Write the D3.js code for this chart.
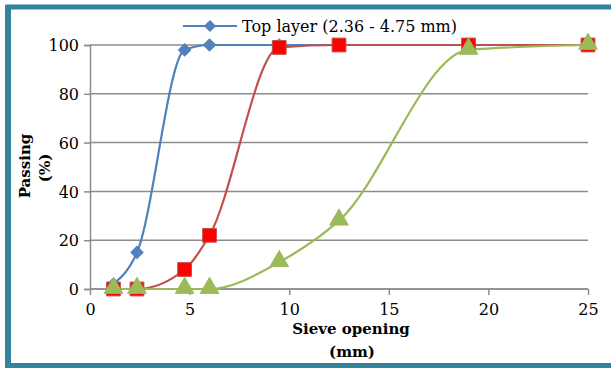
<!DOCTYPE HTML>
<html>
  <head>
    <script src="https://d3js.org/d3.v7.min.js"></script>
    <style>
      body { margin: 0; background: white; }
      svg text { font-family: "DejaVu Serif", "Liberation Serif", serif; fill: black; }
      .tick text { font-size: 16px; }
      .title { font-weight: bold; font-size: 15px; }
    </style>
    <title>Sieve chart</title>
  </head>
  <body>
    <svg id="chart" width="611" height="368"></svg>
    <script>
      var sieves = [1.18, 2.36, 4.75, 6, 9.5, 12.5, 19, 25];
      var topLayer = [2, 15, 98, 100, 100, 100, 100, 100];
      var midLayer = [0, 0, 8, 22, 99, 100, 100, 100];
      var baseLayer = [0, 0, 0, 0, 11, 28, 98, 100];
      var xTicks = [0, 5, 10, 15, 20, 25];
      var yTicks = [0, 20, 40, 60, 80, 100];
      var legendName = "Top layer (2.36 - 4.75 mm)";

      var svg = d3.select("#chart");

      // frame
      svg.append("path")
        .attr("d", "M8,366 L8,7 L620,7 M8,365.5 L620,365.5")
        .attr("fill", "none").attr("stroke", "#31849b").attr("stroke-width", 5);
      svg.append("rect").attr("x", 5).attr("y", 5).attr("width", 6).attr("height", 363).attr("fill", "#31849b");

      var x = d3.scaleLinear().domain([0, 25]).range([90, 588]);
      var y = d3.scaleLinear().domain([0, 100]).range([289, 45]);

      // gridlines
      svg.append("g").selectAll("line").data(yTicks).enter().append("line")
        .attr("x1", x(0)).attr("x2", x(25))
        .attr("y1", function(d){return y(d);}).attr("y2", function(d){return y(d);})
        .attr("stroke", "#8c8c8c").attr("stroke-width", 1.5);

      var yAxis = svg.append("g").attr("transform", "translate(" + x(0) + ",0)")
        .call(d3.axisLeft(y).tickValues(yTicks).tickSize(6).tickPadding(5));
      var xAxis = svg.append("g").attr("transform", "translate(0," + y(0) + ")")
        .call(d3.axisBottom(x).tickValues(xTicks).tickSize(6).tickPadding(9));
      svg.selectAll(".domain, .tick line").attr("stroke", "#8c8c8c").attr("stroke-width", 1.5);
      xAxis.select(".domain").remove();
      svg.append("line").attr("x1", x(0)).attr("x2", x(25)).attr("y1", y(0)).attr("y2", y(0))
        .attr("stroke", "#8c8c8c").attr("stroke-width", 1.5);
      svg.selectAll(".tick text").style("font-family", "DejaVu Serif").style("font-size", "16px");
      yAxis.selectAll(".tick text").attr("dy", "0.35em");

      var line = d3.line()
        .x(function(d){return x(d[0]);}).y(function(d){return y(d[1]);})
        .curve(d3.curveMonotoneX);

      function pts(vals){ return sieves.map(function(s, i){ return [s, vals[i]]; }); }

      var series = [
        {vals: topLayer, color: "#4f81bd", sym: d3.symbolSquare, size: 75, rot: 45, fill: "#4f81bd", edge: "#4f81bd"},
        {vals: midLayer, color: "#c0504d", sym: d3.symbolSquare, size: 190, rot: 0, fill: "#ff0000", edge: "#c0504d"},
        {vals: baseLayer, color: "#9bbb59", sym: d3.symbolTriangle, size: 150, rot: 0, fill: "#9bbb59", edge: "#9bbb59"}
      ];

      series.forEach(function(s){
        svg.append("path").datum(pts(s.vals)).attr("d", line)
          .attr("fill", "none").attr("stroke", s.color).attr("stroke-width", 2.2);
      });
      series.forEach(function(s){
        svg.append("g").selectAll("path").data(pts(s.vals)).enter().append("path")
          .attr("d", d3.symbol().type(s.sym).size(s.size))
          .attr("transform", function(d){
            var dy = s.sym === d3.symbolTriangle ? -1 : 0;
            return "translate(" + x(d[0]) + "," + (y(d[1]) + dy) + ") rotate(" + s.rot + ")";
          })
          .attr("fill", s.fill).attr("stroke", s.edge).attr("stroke-width", 1);
      });

      // legend
      var lg = svg.append("g");
      lg.append("line").attr("x1", 183).attr("x2", 237).attr("y1", 26).attr("y2", 26)
        .attr("stroke", "#4f81bd").attr("stroke-width", 2.2);
      lg.append("path").attr("d", d3.symbol().type(d3.symbolSquare).size(75))
        .attr("transform", "translate(210,26) rotate(45)").attr("fill", "#4f81bd");
      lg.append("text").attr("x", 242).attr("y", 32).style("font-size", "16px").text(legendName);

      // axis titles
      svg.append("text").attr("class", "title").attr("text-anchor", "middle")
        .attr("transform", "translate(30,166) rotate(-90)").text("Passing");
      svg.append("text").attr("class", "title").attr("text-anchor", "middle")
        .attr("transform", "translate(50,168) rotate(-90)").text("(%)");
      svg.append("text").attr("class", "title").attr("text-anchor", "middle")
        .attr("x", 351).attr("y", 334).text("Sieve opening");
      svg.append("text").attr("class", "title").attr("text-anchor", "middle")
        .attr("x", 352).attr("y", 357).text("(mm)");
    </script>
  </body>
</html>
